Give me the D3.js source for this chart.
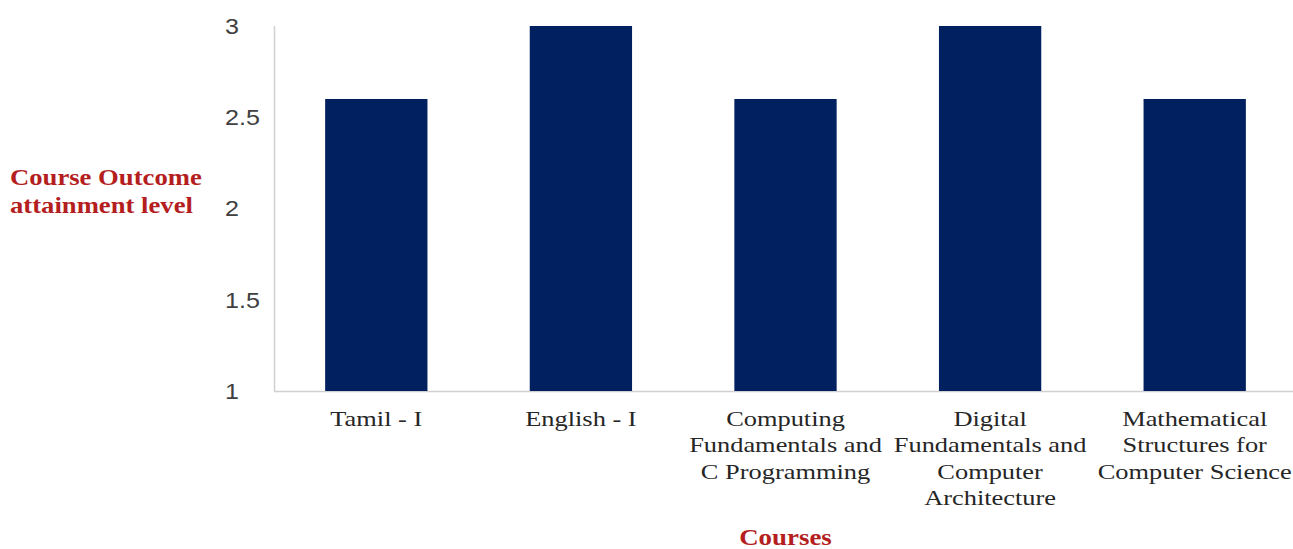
<!DOCTYPE html>
<html>
<head>
<meta charset="utf-8">
<script src="https://cdn.jsdelivr.net/npm/d3@7"></script>
<style>
  html, body { margin: 0; padding: 0; background: #fff; }
  svg { display: block; }
</style>
</head>
<body>
<svg id="chart" width="1293" height="549"></svg>
<script>
// Course outcome attainment per course
const courses = [
  ["Tamil - I"],
  ["English - I"],
  ["Computing", "Fundamentals and", "C Programming"],
  ["Digital", "Fundamentals and", "Computer", "Architecture"],
  ["Mathematical", "Structures for", "Computer Science"]
];
const attainment = [2.6, 3, 2.6, 3, 2.6];
const yTicks = [1, 1.5, 2, 2.5, 3];
const yTitle = ["Course Outcome", "attainment level"];
const xTitle = "Courses";

const svg = d3.select("#chart");
const plotLeft = 274, plotRight = 1297, plotTop = 26, plotBottom = 391;
const serif = "'Liberation Serif', 'Times New Roman', serif";
const sans = "'Liberation Sans', Arial, sans-serif";
const titleColor = "#b41e1e";

// text drawn with a slightly widened face
function wideText(parent, x, y, sx) {
  return parent.append("text")
    .attr("transform", `translate(${x},${y}) scale(${sx},1)`);
}

const x = d3.scaleBand()
  .domain(d3.range(courses.length))
  .range([plotLeft, plotRight])
  .paddingInner(0.5)
  .paddingOuter(0.25);

const y = d3.scaleLinear().domain([1, 3]).range([plotBottom, plotTop]);

// axis lines
svg.append("line")
  .attr("x1", plotLeft).attr("x2", 1293)
  .attr("y1", plotBottom + 0.5).attr("y2", plotBottom + 0.5)
  .attr("stroke", "#d0d0d0").attr("stroke-width", 1.5);
svg.append("line")
  .attr("x1", plotLeft + 0.5).attr("x2", plotLeft + 0.5)
  .attr("y1", plotTop).attr("y2", plotBottom)
  .attr("stroke", "#d0d0d0").attr("stroke-width", 1.5);

// bars
svg.append("g").selectAll("rect")
  .data(attainment)
  .join("rect")
  .attr("x", (d, i) => x(i))
  .attr("width", x.bandwidth())
  .attr("y", d => y(d))
  .attr("height", d => y(1) - y(d))
  .attr("fill", "#00205f");

// y tick labels, left-aligned in a column beside the axis
const fmt = d3.format("~g");
const yg = svg.append("g");
yTicks.forEach(t => {
  wideText(yg, 225, y(t), 1.14)
    .attr("text-anchor", "start")
    .attr("dy", "0.36em")
    .attr("font-family", sans)
    .attr("font-size", 22)
    .attr("fill", "#404040")
    .text(fmt(t));
});

// category labels (multi-line)
const xg = svg.append("g");
courses.forEach((lines, i) => {
  const t = wideText(xg, x(i) + x.bandwidth() / 2, 426, 1.2)
    .attr("text-anchor", "middle")
    .attr("font-family", serif)
    .attr("font-size", 22)
    .attr("fill", "#262626");
  t.selectAll("tspan")
    .data(lines)
    .join("tspan")
    .attr("x", 0)
    .attr("y", (d, j) => j * 26.5)
    .text(d => d);
});

// axis titles
const yt = wideText(svg, 10, 185, 1.16)
  .attr("font-family", serif)
  .attr("font-weight", "bold")
  .attr("font-size", 23)
  .attr("fill", titleColor);
yt.selectAll("tspan")
  .data(yTitle)
  .join("tspan")
  .attr("x", 0)
  .attr("y", (d, j) => j * 28)
  .text(d => d);

wideText(svg, x(2) + x.bandwidth() / 2, 545, 1.17)
  .attr("text-anchor", "middle")
  .attr("font-family", serif)
  .attr("font-weight", "bold")
  .attr("font-size", 23)
  .attr("fill", titleColor)
  .text(xTitle);
</script>
</body>
</html>
